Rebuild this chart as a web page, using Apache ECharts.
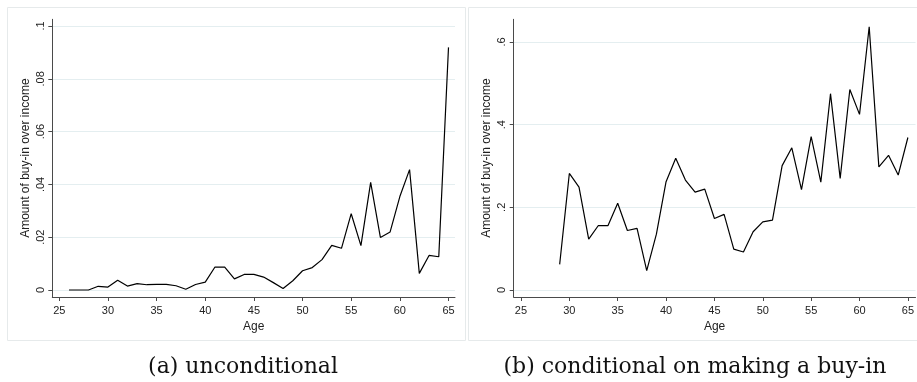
<!DOCTYPE html>
<html>
<head>
<meta charset="utf-8">
<script src="https://cdn.jsdelivr.net/npm/echarts@6/dist/echarts.min.js"></script>
<style>
html,body{margin:0;padding:0;background:#fff;}
#c{width:917px;height:382px;}
</style>
</head>
<body>
<div id="c"></div>
<script>
// Panel (a): unconditional
const agesA = [26,27,28,29,30,31,32,33,34,35,36,37,38,39,40,41,42,43,44,45,46,47,48,49,50,51,52,53,54,55,56,57,58,59,60,61,62,63,64,65];
const shareA = [0,0,0,0.0014,0.0011,0.0037,0.0015,0.0024,0.002,0.0021,0.0021,0.0016,0.0003,0.0021,0.003,0.0087,0.0087,0.0042,0.0059,0.0059,0.0049,0.0028,0.0006,0.0035,0.0073,0.0085,0.0115,0.0169,0.0158,0.0289,0.0168,0.0408,0.0199,0.022,0.0354,0.0456,0.0063,0.0131,0.0126,0.0919];
// Panel (b): conditional on making a buy-in
const agesB = [29,30,31,32,33,34,35,36,37,38,39,40,41,42,43,44,45,46,47,48,49,50,51,52,53,54,55,56,57,58,59,60,61,62,63,64,65];
const shareB = [0.062,0.282,0.249,0.123,0.156,0.156,0.210,0.144,0.149,0.047,0.135,0.262,0.319,0.266,0.237,0.244,0.173,0.183,0.099,0.092,0.141,0.165,0.169,0.301,0.344,0.243,0.371,0.261,0.475,0.270,0.485,0.425,0.637,0.298,0.326,0.278,0.369];
const xTicks = [25,30,35,40,45,50,55,60,65];
const yTicksA = [0,0.02,0.04,0.06,0.08,0.1];
const yTicksB = [0,0.2,0.4,0.6];
const xName = 'Age';
const yName = 'Amount of buy-in over income';
const captionA = '(a) unconditional';
const captionB = '(b) conditional on making a buy-in';

const FONT = 'Liberation Sans';
const axisCol = '#4a4a4a';
const gridCol = '#e4eef0';
const fmt = v => v === 0 ? '0' : String(+v.toFixed(4)).replace(/^0\./, '.');

function xAxisOf(gi, min, max) {
  return {
    type: 'value', gridIndex: gi, min: min, max: max,
    name: xName, nameLocation: 'middle', nameGap: 21,
    nameTextStyle: {fontFamily: FONT, fontSize: 12, color: '#222'},
    axisLine: {show: true, onZero: false, lineStyle: {color: axisCol, width: 1}},
    axisTick: {show: true, length: 4, customValues: xTicks, lineStyle: {color: axisCol}},
    axisLabel: {customValues: xTicks, margin: 8, fontFamily: FONT, fontSize: 11, color: '#222'},
    splitLine: {show: false}
  };
}
function yAxisOf(gi, min, max, ticks) {
  return {
    type: 'value', gridIndex: gi, min: min, max: max,
    name: yName, nameLocation: 'middle', nameGap: 21,
    nameTextStyle: {fontFamily: FONT, fontSize: 12, color: '#222'},
    axisLine: {show: true, onZero: false, lineStyle: {color: axisCol, width: 1}},
    axisTick: {show: true, length: 4, customValues: ticks, lineStyle: {color: axisCol}},
    axisLabel: {customValues: ticks, rotate: 90, margin: 6, fontFamily: FONT, fontSize: 11, color: '#222', formatter: fmt},
    splitLine: {show: true, lineStyle: {color: gridCol, width: 1}}
  };
}

const chart = echarts.init(document.getElementById('c'), null, {renderer: 'canvas'});
chart.setOption({
  animation: false,
  backgroundColor: '#fff',
  title: [
    {text: captionA, left: 238, top: 351, textAlign: 'center',
     textStyle: {fontFamily: 'DejaVu Serif', fontSize: 22, fontWeight: 'normal', color: '#111'}},
    {text: captionB, left: 690, top: 351, textAlign: 'center',
     textStyle: {fontFamily: 'DejaVu Serif', fontSize: 22, fontWeight: 'normal', color: '#111'}}
  ],
  graphic: [
    {type: 'rect', shape: {x: 7.5, y: 7.5, width: 458, height: 333}, style: {fill: 'none', stroke: '#e6eaeb', lineWidth: 1}, z: -1},
    {type: 'rect', shape: {x: 468.5, y: 7.5, width: 460, height: 333}, style: {fill: 'none', stroke: '#e6eaeb', lineWidth: 1}, z: -1}
  ],
  grid: [
    {left: 52.3, top: 19.3, width: 402.7, height: 277.7, containLabel: false},
    {left: 513.7, top: 19.3, width: 403.3, height: 277.7, containLabel: false}
  ],
  xAxis: [xAxisOf(0, 24.281, 65.668), xAxisOf(1, 24.248, 65.79)],
  yAxis: [yAxisOf(0, -0.00265, 0.10254, yTicksA), yAxisOf(1, -0.01694, 0.655, yTicksB)],
  series: [
    {type: 'line', xAxisIndex: 0, yAxisIndex: 0, showSymbol: false,
     data: agesA.map((a, i) => [a, shareA[i]]), lineStyle: {color: '#000', width: 1.2}},
    {type: 'line', xAxisIndex: 1, yAxisIndex: 1, showSymbol: false,
     data: agesB.map((a, i) => [a, shareB[i]]), lineStyle: {color: '#000', width: 1.2}}
  ]
});
</script>
</body>
</html>
